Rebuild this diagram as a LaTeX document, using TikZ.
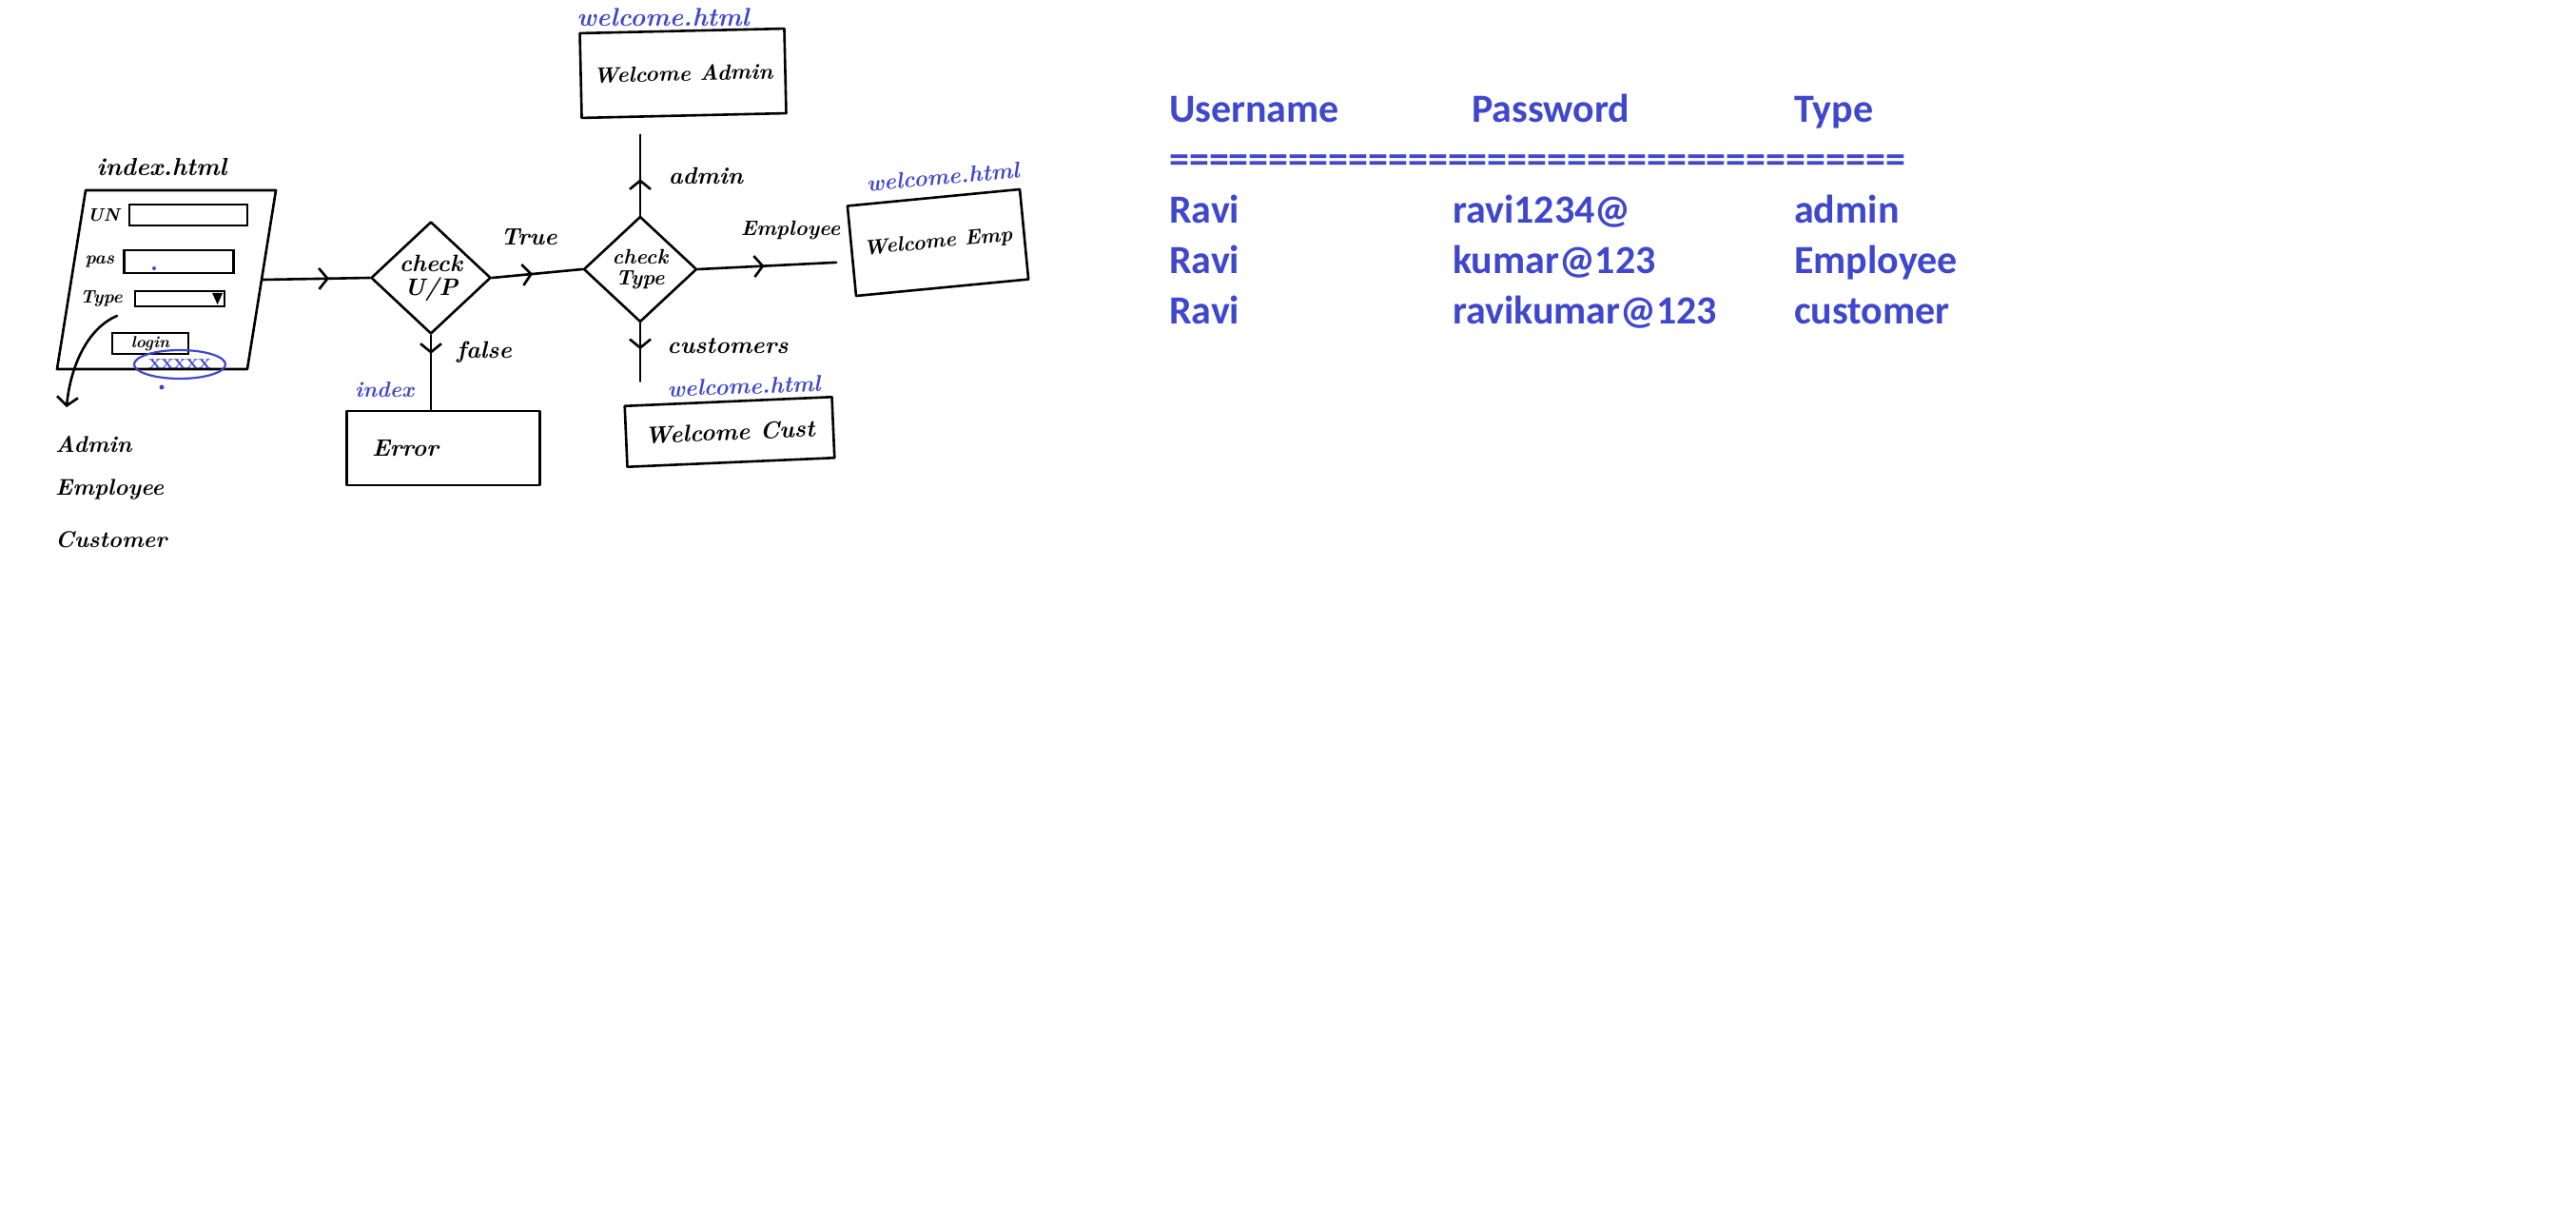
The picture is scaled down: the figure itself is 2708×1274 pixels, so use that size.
\documentclass[tikz,border=0pt]{standalone}
\usepackage{fontspec}
\newfontfamily\tablefont{Carlito}
\usepackage{tikz}
\usetikzlibrary{arrows.meta,shapes.geometric,positioning,decorations.markings}
\definecolor{penblue}{RGB}{63,72,204}
\newcommand{\hand}[1]{\bfseries\itshape\fontsize{#1}{#1}\selectfont}
\tikzset{
  pen/.style={line width=2.6pt, draw=black, line cap=round, line join=round},
  page/.style={pen, rectangle, inner sep=0pt},
  decision/.style={pen, diamond, inner sep=0pt, align=center, font=\hand{25}},
  fieldbox/.style={line width=2.2pt, draw=black, rectangle, inner sep=0pt},
  flow/.style={pen, postaction={decorate}, decoration={markings, mark=at position #1 with {\arrow{Straight Barb[length=9pt,width=22pt]}}}},
  flow/.default=0.5,
  edgetext/.style={font=\hand{25}, inner sep=0pt},
  filelabel/.style={text=penblue, font=\hand{24}, inner sep=0pt},
  tabletext/.style={text=penblue, font=\tablefont\bfseries\fontsize{42}{50}\selectfont, anchor=base west, inner sep=0pt}
}

\begin{document}
\begin{tikzpicture}[x=1pt, y=-1pt]
\fill[white] (0,0) rectangle (2708,1274);
\useasboundingbox (0,0) rectangle (2708,1274);

% login page
\node (form) [pen, rectangle, minimum width=200pt, minimum height=188pt, xslant=0.16, transform shape] at (175,294) {};
\node (formname) [edgetext, font=\hand{26}] at (170,176) {index.html};
\node (unfield) [fieldbox, minimum width=124pt, minimum height=22pt] at (198,226) {};
\node (pasfield) [fieldbox, minimum width=115pt, minimum height=24pt] at (188,275) {};
\node (typfield) [fieldbox, minimum width=94pt, minimum height=16pt] at (189,314) {};
\node (login) [fieldbox, minimum width=80pt, minimum height=22pt, font=\hand{17}] at (158,361) {login};
\node (unlabel) [edgetext, font=\hand{19}, left=9pt of unfield] {UN};
\node (paslabel) [edgetext, font=\hand{19}, left=9pt of pasfield] {pas};
\node (typlabel) [edgetext, font=\hand{19}, left=12pt of typfield] {Type};
\fill ([xshift=-14pt,yshift=-3pt]typfield.north east) -- ([xshift=-3pt,yshift=-3pt]typfield.north east) -- ([xshift=-8.5pt,yshift=3pt]typfield.south east) -- cycle;
\node (pwdmask) [ellipse, draw=penblue, line width=2.2pt, minimum width=96pt, minimum height=30pt, inner sep=0pt, text=penblue, font=\hand{22}\upshape] at (189,383) {xxxxx};
\fill[penblue] (162,282) circle (2pt);
\fill[penblue] (170,407) circle (2.5pt);

% type choices
\coordinate (typetail) at (123,332);
\coordinate (listhead) at (70,428);
\draw[pen, -{Straight Barb[length=9pt,width=22pt]}] (typetail) .. controls (92,345) and (74,385) .. (listhead);
\foreach \role/\y in {Admin/467, Employee/515, Customer/567}
  \node (role\role) [edgetext, font=\hand{24}, anchor=west] at (58,\y) {\role};

% decisions
\node (cup) [decision, minimum width=126pt, minimum height=118pt] at (453,292) {check\\U/P};
\node (ctype) [decision, minimum width=119pt, minimum height=111pt, font=\hand{22}] at (673,283) {check\\Type};

% result pages
\node (wadmin) [page, minimum width=215pt, minimum height=89pt, rotate=1.3, font=\hand{23}] at (718,77) {Welcome Admin};
\node (wemp) [page, minimum width=182pt, minimum height=95pt, rotate=5.5, font=\hand{22}] at (986,255) {Welcome Emp};
\node (wcust) [page, minimum width=218pt, minimum height=64pt, rotate=2.5, font=\hand{25}] at (767,454) {Welcome Cust};
\node (err) [page, minimum width=203pt, minimum height=78pt, text width=150pt, inner xsep=26pt, align=left, font=\hand{25}] at (466,471) {Error};

\node (fadmin) [filelabel, font=\hand{27}] at (697,18) {welcome.html};
\node (femp) [filelabel, rotate=5] at (991,186) {welcome.html};
\node (fcust) [filelabel, rotate=2] at (782,406) {welcome.html};
\node (ferr) [filelabel, font=\hand{23}] at (404,410) {index};

% connectors
\draw[flow=0.62] (form.east) -- (cup.west);
\draw[flow=0.45] (cup.east) -- (ctype.west);
\draw[flow=0.25] (cup.south) -- (cup.south |- err.north);
\draw[flow=0.45] (ctype.north) -- ([yshift=-19pt]ctype.north |- wadmin.south);
\draw[flow=0.45] (ctype.south) -- ([yshift=20pt]ctype.south |- wcust.north);
\draw[flow=0.48] (ctype.east) -- ([xshift=-15pt,yshift=-12pt]wemp.west);

\node (ltrue) [edgetext] at (556,249) {True};
\node (lfalse) [edgetext] at (509,370) {false};
\node (ladmin) [edgetext] at (742,185) {admin};
\node (lemp) [edgetext, font=\hand{22}] at (831,242) {Employee};
\node (lcust) [edgetext] at (765,364) {customers};

% user table
\node (hduser) [tabletext] at (1229,128) {Username};
\node (hdpass) [tabletext] at (1547,128) {Password};
\node (hdtype) [tabletext] at (1886,128) {Type};
\node (hdrule) [tabletext] at (1229,181) {=====================================};
\foreach \y/\user/\pass/\kind [count=\i] in {234/Ravi/ravi1234@/admin, 287/Ravi/kumar@123/Employee, 340/Ravi/ravikumar@123/customer} {
  \node (user\i) [tabletext] at (1229,\y) {\user};
  \node (pass\i) [tabletext] at (1527,\y) {\pass};
  \node (kind\i) [tabletext] at (1886,\y) {\kind};
}
\end{tikzpicture}
\end{document}
